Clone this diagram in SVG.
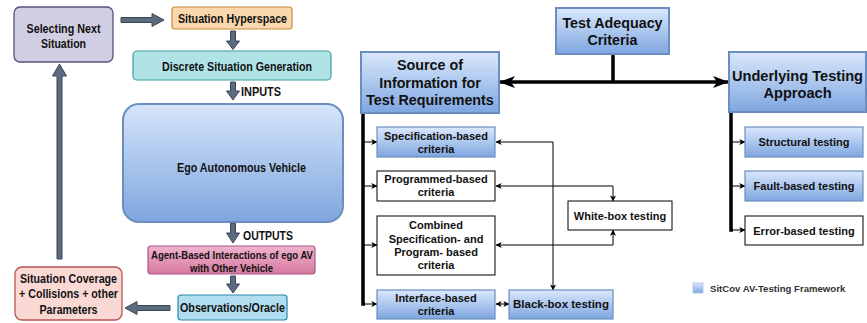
<svg xmlns="http://www.w3.org/2000/svg" width="867" height="323" viewBox="0 0 867 323">
<defs>
<linearGradient id="gBlue" x1="0" y1="0" x2="0" y2="1"><stop offset="0" stop-color="#dae8fc"/><stop offset="1" stop-color="#7ea6e0"/></linearGradient>
<linearGradient id="gEgo" x1="0" y1="0" x2="0" y2="1"><stop offset="0" stop-color="#d6e5fa"/><stop offset="1" stop-color="#7fa6df"/></linearGradient>
<linearGradient id="gPink" x1="0" y1="0" x2="0" y2="1"><stop offset="0" stop-color="#f0b4cf"/><stop offset="1" stop-color="#d7799f"/></linearGradient>
<marker id="sm" viewBox="0 0 8 8" refX="7.5" refY="4" markerWidth="6" markerHeight="6" markerUnits="userSpaceOnUse" orient="auto-start-reverse"><path d="M0,0 L8,4 L0,8 L2,4 z" fill="#000"/></marker>
<marker id="big" viewBox="0 0 16 12" refX="15" refY="6" markerWidth="16" markerHeight="12" markerUnits="userSpaceOnUse" orient="auto-start-reverse"><path d="M0,0 L16,6 L0,12 L4,6 z" fill="#000"/></marker>
</defs>
<style>
text{font-family:"Liberation Sans",Arial,sans-serif;font-weight:bold;fill:#111;text-anchor:middle}
.l{font-size:13.5px}
.lt{font-size:11.5px}
.r{font-size:14.3px}
.s{font-size:11px}
.blk{fill:#5c6b7e;stroke:#3c4858;stroke-width:1}
.bb{fill:url(#gBlue);stroke:#6c8ebf;stroke-width:1.2}
.bbT{fill:url(#gBlue);stroke:#6c8ebf;stroke-width:2}
.wb{fill:#fff;stroke:#000;stroke-width:1}
.thick{stroke:#000;stroke-width:3.5;fill:none}
.thin{stroke:#000;stroke-width:1;fill:none}
</style>

<g id="connectors">
<path class="blk" d="M121,17.5 H152 V13.5 L164,20 L152,26.5 V22.5 H121 Z"/>
<path class="blk" d="M230.5,31 V41 H226.5 L233,49.5 L239.5,41 H235.5 V31 Z"/>
<path class="blk" d="M230.5,82 V91 H226.5 L233,100 L239.5,91 H235.5 V82 Z"/>
<path class="blk" d="M230.5,223 V233 H226.5 L233,243 L239.5,233 H235.5 V223 Z"/>
<path class="blk" d="M230.5,276 V284 H226.5 L233,293 L239.5,284 H235.5 V276 Z"/>
<path class="blk" d="M170,305.5 H137 V301.5 L125,308 L137,314.5 V310.5 H170 Z"/>
<path class="blk" d="M57,259 V76 H52.5 L59.5,64 L66.5,76 H62 V259 Z"/>
<line class="thick" x1="613" y1="54" x2="613" y2="82"/>
<line class="thick" x1="500" y1="82" x2="728" y2="82" marker-start="url(#big)" marker-end="url(#big)"/>
<polyline class="thick" points="363,113 363,304 365,304"/>
<line class="thin" x1="363" y1="142" x2="377" y2="142" marker-end="url(#sm)"/>
<line class="thin" x1="363" y1="186" x2="377" y2="186" marker-end="url(#sm)"/>
<line class="thin" x1="363" y1="245" x2="377" y2="245" marker-end="url(#sm)"/>
<line class="thin" x1="363" y1="304" x2="377" y2="304" marker-end="url(#sm)"/>
<polyline class="thick" points="731,112 731,230 733,230"/>
<line class="thin" x1="731" y1="142" x2="745" y2="142" marker-end="url(#sm)"/>
<line class="thin" x1="731" y1="186" x2="745" y2="186" marker-end="url(#sm)"/>
<line class="thin" x1="731" y1="230" x2="745" y2="230" marker-end="url(#sm)"/>
<polyline class="thin" points="496,142 553,142 553,290" marker-start="url(#sm)" marker-end="url(#sm)"/>
<polyline class="thin" points="496,186 613,186 613,201" marker-start="url(#sm)" marker-end="url(#sm)"/>
<polyline class="thin" points="496,245 613,245 613,230" marker-start="url(#sm)" marker-end="url(#sm)"/>
<line class="thin" x1="496" y1="304" x2="509" y2="304" marker-start="url(#sm)" marker-end="url(#sm)"/>
</g>

<g id="selecting"><rect x="14" y="7" width="99" height="55" rx="6" fill="#d0cee2" stroke="#56517e" stroke-width="1.3"/>
<text class="l" x="63.5" y="33" textLength="74" lengthAdjust="spacingAndGlyphs">Selecting Next</text>
<text class="l" x="63.5" y="48" textLength="45" lengthAdjust="spacingAndGlyphs">Situation</text></g>

<g id="hyperspace"><rect x="172" y="7" width="120" height="22" rx="3" fill="#fad7ac" stroke="#c98a3c" stroke-width="1.2"/>
<text class="l" x="232.5" y="23" textLength="109" lengthAdjust="spacingAndGlyphs">Situation Hyperspace</text></g>

<g id="discrete"><rect x="133" y="51" width="198" height="29" rx="4" fill="#b0e3e6" stroke="#3d9ba0" stroke-width="1.2"/>
<text class="l" x="237" y="70.5" textLength="150" lengthAdjust="spacingAndGlyphs">Discrete Situation Generation</text></g>
<text class="l" x="261" y="96" textLength="40" lengthAdjust="spacingAndGlyphs">INPUTS</text>

<g id="ego"><rect x="123" y="104" width="220" height="118" rx="16" fill="url(#gEgo)" stroke="#6c8ebf" stroke-width="2"/>
<text class="l" x="241.5" y="171.5" textLength="129" lengthAdjust="spacingAndGlyphs">Ego Autonomous Vehicle</text></g>
<text class="l" x="268" y="240" textLength="50" lengthAdjust="spacingAndGlyphs">OUTPUTS</text>

<g id="agent"><rect x="148" y="246" width="167" height="28" rx="3" fill="url(#gPink)" stroke="#a45c85" stroke-width="1.2"/>
<text class="lt" x="232" y="258.5" textLength="162" lengthAdjust="spacingAndGlyphs">Agent-Based Interactions of ego AV</text>
<text class="lt" x="231.5" y="271.5" textLength="83" lengthAdjust="spacingAndGlyphs">with Other Vehicle</text></g>

<g id="observations"><rect x="178" y="295" width="109" height="25" rx="3" fill="#b1ddf0" stroke="#2a86ad" stroke-width="1.2"/>
<text class="l" x="232.5" y="312" textLength="105" lengthAdjust="spacingAndGlyphs">Observations/Oracle</text></g>

<g id="coverage"><rect x="15" y="267" width="107" height="53" rx="7" fill="#fad9d5" stroke="#b85450" stroke-width="1.3"/>
<text class="l" x="68.5" y="283" textLength="97" lengthAdjust="spacingAndGlyphs">Situation Coverage</text>
<text class="l" x="68.5" y="298" textLength="99" lengthAdjust="spacingAndGlyphs">+ Collisions + other</text>
<text class="l" x="68.5" y="314" textLength="58" lengthAdjust="spacingAndGlyphs">Parameters</text></g>

<g id="adequacy"><rect class="bbT" x="556" y="8" width="113" height="46"/>
<text class="r" x="612.5" y="28">Test Adequacy</text>
<text class="r" x="612.5" y="45">Criteria</text></g>

<g id="source"><rect class="bbT" x="361" y="52" width="138" height="61"/>
<text class="r" x="430" y="70">Source of</text>
<text class="r" x="430" y="87.5">Information for</text>
<text class="r" x="430" y="105">Test Requirements</text></g>

<g id="underlying"><rect class="bbT" x="729" y="52" width="137" height="60"/>
<text class="r" x="797.5" y="81" style="font-size:14.6px">Underlying Testing</text>
<text class="r" x="797.5" y="98" style="font-size:14.6px">Approach</text></g>

<g id="spec"><rect class="bb" x="377" y="127" width="118" height="30"/>
<text class="s" x="436" y="140">Specification-based</text>
<text class="s" x="436" y="153">criteria</text></g>

<g id="programmed"><rect class="wb" x="377" y="171" width="118" height="30"/>
<text class="s" x="436" y="183">Programmed-based</text>
<text class="s" x="436" y="196">criteria</text></g>

<g id="combined"><rect class="wb" x="377" y="216" width="118" height="59"/>
<text class="s" x="436" y="229">Combined</text>
<text class="s" x="436" y="242.5">Specification- and</text>
<text class="s" x="436" y="256">Program- based</text>
<text class="s" x="436" y="269">criteria</text></g>

<g id="interface"><rect class="bb" x="377" y="290" width="118" height="29"/>
<text class="s" x="436" y="302">Interface-based</text>
<text class="s" x="436" y="315">criteria</text></g>

<g id="blackbox"><rect class="bb" x="509" y="290" width="104" height="29"/>
<text class="s" x="561" y="308" style="font-size:11.5px">Black-box testing</text></g>

<g id="whitebox"><rect class="wb" x="568" y="201" width="104" height="29"/>
<text class="s" x="620" y="220">White-box testing</text></g>

<g id="structural"><rect class="bb" x="745" y="127" width="118" height="30"/>
<text class="s" x="804" y="146">Structural testing</text></g>

<g id="fault"><rect class="bb" x="745" y="171" width="118" height="30"/>
<text class="s" x="804" y="190">Fault-based testing</text></g>

<g id="error"><rect class="wb" x="745" y="216" width="118" height="29"/>
<text class="s" x="804" y="235">Error-based testing</text></g>

<g id="legend"><rect x="693" y="283" width="10" height="10" fill="url(#gBlue)" stroke="#a9c2e6" stroke-width="0.8"/>
<text x="710" y="291.5" style="font-size:9.6px;text-anchor:start;fill:#333">SitCov AV-Testing Framework</text></g>
</svg>
